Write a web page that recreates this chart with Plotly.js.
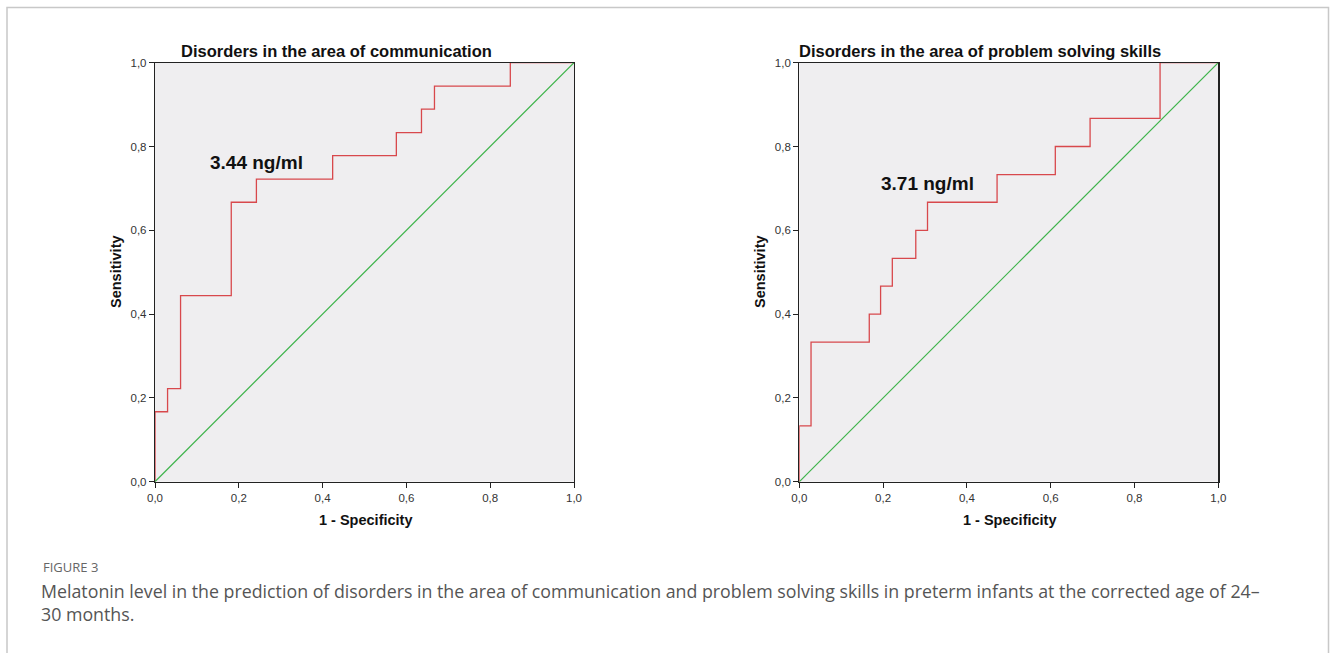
<!DOCTYPE html>
<html>
<head>
<meta charset="utf-8">
<script src="https://cdn.plot.ly/plotly-3.0.1.min.js"></script>
<style>
html,body{margin:0;padding:0;background:#fff;}
#chart{width:1330px;height:653px;}
</style>
</head>
<body>
<div id="chart"></div>
<script>
// Panel 1: Disorders in the area of communication (ROC points)
const commFPR = [0, 0, 0.030, 0.061, 0.182, 0.242, 0.424, 0.576, 0.636, 0.667, 0.848, 1.0];
const commTPR = [0, 0.167, 0.222, 0.444, 0.667, 0.722, 0.778, 0.833, 0.889, 0.944, 1.0, 1.0];
// Panel 2: Disorders in the area of problem solving skills (ROC points)
const probFPR = [0, 0, 0.028, 0.167, 0.194, 0.222, 0.278, 0.306, 0.472, 0.611, 0.694, 0.861, 1.0];
const probTPR = [0, 0.133, 0.333, 0.400, 0.467, 0.533, 0.600, 0.667, 0.733, 0.800, 0.867, 1.0, 1.0];
// Reference line
const refLine = [0, 1];

const panelTitles = ["Disorders in the area of communication", "Disorders in the area of problem solving skills"];
const cutoffLabels = ["3.44 ng/ml", "3.71 ng/ml"];
const cutoffPos = [[0.243, 0.761], [0.307, 0.711]];
const tickVals = [0, 0.2, 0.4, 0.6, 0.8, 1.0];
const tickText = ["0,0", "0,2", "0,4", "0,6", "0,8", "1,0"];
const captionHead = "FIGURE 3";
const captionLine1 = "Melatonin level in the prediction of disorders in the area of communication and problem solving skills in preterm infants at the corrected age of 24–";
const captionLine2 = "30 months.";

const W = 1330, H = 653;
const px = v => v / W;
const py = v => 1 - v / H;

const RED = '#d8484c', GREEN = '#3db34a';

const traces = [
  {x: commFPR, y: commTPR, xaxis: 'x', yaxis: 'y', mode: 'lines', line: {shape: 'hv', color: RED, width: 1.3}},
  {x: refLine, y: refLine, xaxis: 'x', yaxis: 'y', mode: 'lines', line: {color: GREEN, width: 1.2}},
  {x: probFPR, y: probTPR, xaxis: 'x2', yaxis: 'y2', mode: 'lines', line: {shape: 'hv', color: RED, width: 1.3}},
  {x: refLine, y: refLine, xaxis: 'x2', yaxis: 'y2', mode: 'lines', line: {color: GREEN, width: 1.2}}
];

const axFont = {family: 'Liberation Sans, Arial, sans-serif', size: 11.5, color: '#333'};
function xa(dom, anchor) {
  return {domain: dom, anchor: anchor, range: [0, 1], tickvals: tickVals, ticktext: tickText,
    ticks: 'outside', ticklen: 5, tickcolor: '#222', tickwidth: 1, showline: true, linecolor: '#222', linewidth: 1.2,
    mirror: true, showgrid: false, zeroline: false, tickfont: axFont, fixedrange: true};
}
const yDom = [1 - 481.7 / H, 1 - 62.7 / H];
const x1Dom = [155 / W, 574 / W];
const x2Dom = [799.3 / W, 1218.3 / W];

const titleFont = {family: 'Liberation Sans, Arial, sans-serif', size: 16.5, color: '#111'};
const labFont = {family: 'Liberation Sans, Arial, sans-serif', size: 14.5, color: '#111'};
const cutFont = {family: 'Liberation Sans, Arial, sans-serif', size: 19, color: '#111'};
const capFont = {family: 'Open Sans, sans-serif', size: 17.8, color: '#555'};

function ann(text, x, y, font, extra) {
  return Object.assign({text: text, xref: 'paper', yref: 'paper', x: px(x), y: py(y), showarrow: false, font: font,
    xanchor: 'center', yanchor: 'middle'}, extra || {});
}

const annotations = [
  ann('<b>' + panelTitles[0] + '</b>', 336, 51, titleFont),
  ann('<b>' + panelTitles[1] + '</b>', 980, 51, titleFont),
  {text: '<b>' + cutoffLabels[0] + '</b>', xref: 'x', yref: 'y', x: cutoffPos[0][0], y: cutoffPos[0][1], showarrow: false, font: cutFont, xanchor: 'center', yanchor: 'middle'},
  {text: '<b>' + cutoffLabels[1] + '</b>', xref: 'x2', yref: 'y2', x: cutoffPos[1][0], y: cutoffPos[1][1], showarrow: false, font: cutFont, xanchor: 'center', yanchor: 'middle'},
  ann('<b>Sensitivity</b>', 116, 272, labFont, {textangle: -90}),
  ann('<b>Sensitivity</b>', 760, 272, labFont, {textangle: -90}),
  ann('<b>1 - Specificity</b>', 365, 520, labFont),
  ann('<b>1 - Specificity</b>', 1009, 520, labFont),
  ann(captionHead, 41, 567, {family: 'Open Sans, sans-serif', size: 13, color: '#666'}, {xanchor: 'left'}),
  ann(captionLine1, 39, 591, capFont, {xanchor: 'left'}),
  ann(captionLine2, 39, 614, capFont, {xanchor: 'left'})
];

const shapes = [
  {type: 'rect', xref: 'paper', yref: 'paper', x0: px(7), x1: px(1328.5), y0: -0.05, y1: py(7.5), line: {color: '#c8c8c8', width: 1.5}, fillcolor: 'rgba(0,0,0,0)', layer: 'below'}
];

const layout = {
  width: W, height: H,
  margin: {l: 0, r: 0, t: 0, b: 0},
  paper_bgcolor: '#fff', plot_bgcolor: '#efeef0',
  showlegend: false,
  separators: ',.',
  xaxis: xa(x1Dom, 'y'),
  yaxis: xa(yDom, 'x'),
  xaxis2: xa(x2Dom, 'y2'),
  yaxis2: xa(yDom, 'x2'),
  annotations: annotations,
  shapes: shapes
};

Plotly.newPlot('chart', traces, layout, {staticPlot: true, displayModeBar: false});
</script>
</body>
</html>
